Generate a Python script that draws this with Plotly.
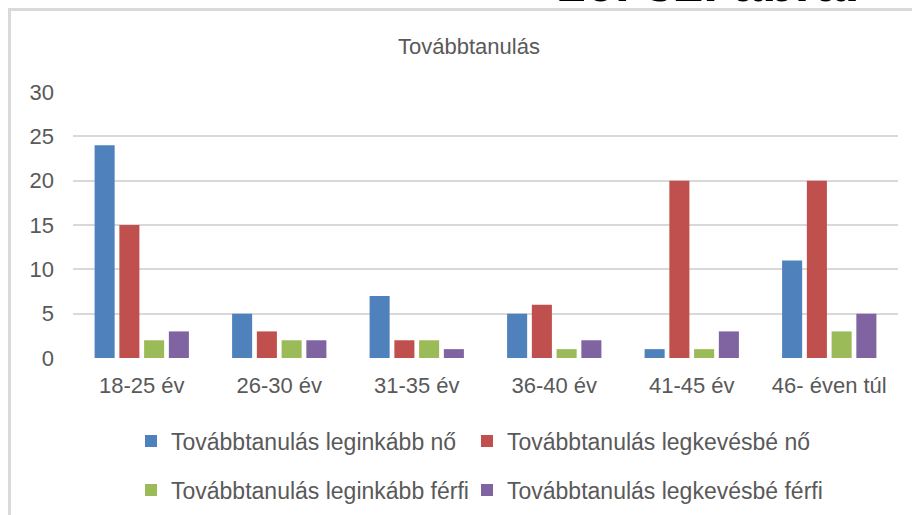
import plotly.graph_objects as go

categories = ["18-25 év", "26-30 év", "31-35 év", "36-40 év", "41-45 év", "46- éven túl"]
series_names = [
    "Továbbtanulás leginkább nő",
    "Továbbtanulás legkevésbé nő",
    "Továbbtanulás leginkább férfi",
    "Továbbtanulás legkevésbé férfi",
]
leginkabb_no = [24, 5, 7, 5, 1, 11]
legkevesbe_no = [15, 3, 2, 6, 20, 20]
leginkabb_ferfi = [2, 2, 2, 1, 1, 3]
legkevesbe_ferfi = [3, 2, 1, 2, 3, 5]
y_ticks = [0, 5, 10, 15, 20, 25, 30]

colors = ["#4F81BD", "#C0504D", "#9BBB59", "#8064A2"]
values = [leginkabb_no, legkevesbe_no, leginkabb_ferfi, legkevesbe_ferfi]
legend_ids = ["legend", "legend2", "legend3", "legend4"]

W, H = 912, 515
L, R, T, B = 73, 14, 92, 157
pw, ph = W - L - R, H - T - B

def px(x):
    return (x - L) / pw

def py(y):
    return 1 + (T - y) / ph

FONT = "Liberation Sans"
GRAY = "#595959"

fig = go.Figure()
for name, vals, col, lg in zip(series_names, values, colors, legend_ids):
    fig.add_trace(go.Bar(x=categories, y=vals, name=name, marker_color=col,
                         marker_line_width=0, legend=lg))

legend_common = dict(orientation="h", xanchor="left", yanchor="middle",
                     font=dict(family=FONT, size=23, color=GRAY),
                     itemwidth=30, bgcolor="rgba(0,0,0,0)")

fig.update_layout(
    width=W, height=H,
    margin=dict(l=L, r=R, t=T, b=B, autoexpand=False),
    paper_bgcolor="white", plot_bgcolor="white",
    barmode="group", bargap=0.28, bargroupgap=0.19,
    font=dict(family=FONT, color=GRAY),
    legend=dict(x=px(131), y=py(441), **legend_common),
    legend2=dict(x=px(467), y=py(441), **legend_common),
    legend3=dict(x=px(131), y=py(490), **legend_common),
    legend4=dict(x=px(467), y=py(490), **legend_common),
    xaxis=dict(showgrid=False, showline=False, zeroline=False, ticks="",
               tickfont=dict(family=FONT, size=22, color=GRAY),
               ticklabelstandoff=12),
    yaxis=dict(range=[0, 30], tickvals=y_ticks, showgrid=True,
               gridcolor="#D9D9D9", gridwidth=2, zeroline=False,
               showline=False, ticks="",
               tickfont=dict(family=FONT, size=22, color=GRAY),
               ticklabelstandoff=18),
    annotations=[
        dict(text="Továbbtanulás", xref="paper", yref="paper",
             x=px(469), y=py(46), xanchor="center", yanchor="middle",
             showarrow=False, font=dict(family=FONT, size=22, color=GRAY)),
        dict(text="<b>16. 32. ábra.</b>", xref="paper", yref="paper",
             x=px(707), y=py(14), xanchor="center", yanchor="bottom",
             showarrow=False, font=dict(family=FONT, size=53, color="black")),
    ],
    shapes=[
        dict(type="line", xref="paper", yref="paper",
             x0=px(9.5), x1=px(920), y0=py(9.5), y1=py(9.5),
             line=dict(color="#D9D9D9", width=3)),
        dict(type="line", xref="paper", yref="paper",
             x0=px(9.5), x1=px(9.5), y0=py(8), y1=py(520),
             line=dict(color="#D9D9D9", width=3)),
    ],
    showlegend=True,
)

fig.write_html("out.html", config={"displayModeBar": False},
               post_script="document.body.style.margin='0';document.body.style.overflow='hidden';")
